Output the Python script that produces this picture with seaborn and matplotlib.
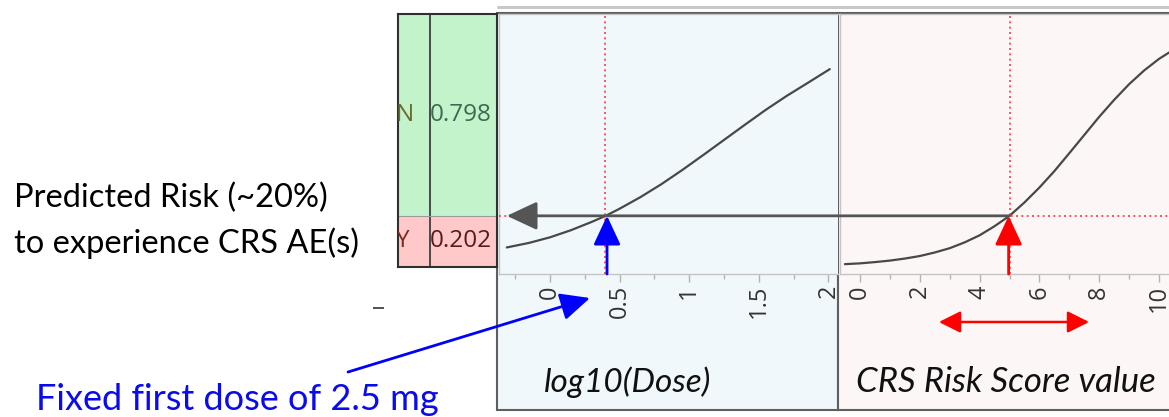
import matplotlib
matplotlib.use("Agg")
import matplotlib.pyplot as plt
from matplotlib.patches import Rectangle, FancyArrowPatch
from matplotlib.lines import Line2D
from matplotlib.ticker import MultipleLocator
import seaborn as sns
import pandas as pd

# ---- data -------------------------------------------------------------
# profile of predicted CRS probability vs log10(dose)
dose_log10 = [-0.31, -0.15, 0.0, 0.15, 0.3, 0.4, 0.5, 0.65, 0.8, 0.95,
              1.1, 1.25, 1.4, 1.55, 1.7, 1.85, 2.01]
dose_prob = [0.077, 0.095, 0.117, 0.145, 0.178, 0.202, 0.230, 0.276, 0.327, 0.383,
             0.442, 0.502, 0.562, 0.621, 0.676, 0.727, 0.782]

# profile of predicted CRS probability vs CRS risk score
score_vals = [-0.5, 0.0, 0.5, 1.0, 1.5, 2.0, 2.5, 3.0, 3.5, 4.0, 4.5, 5.0,
              5.5, 6.0, 6.5, 7.0, 7.5, 8.0, 8.5, 9.0, 9.5, 10.0, 10.7]
score_prob = [0.011, 0.014, 0.019, 0.025, 0.033, 0.043, 0.057, 0.074, 0.097, 0.125,
              0.161, 0.202, 0.255, 0.314, 0.379, 0.450, 0.522, 0.594, 0.661, 0.723,
              0.777, 0.823, 0.875]

# current settings of the profiler
dose_setting = 0.398          # log10(2.5 mg)
score_setting = 5.0
pred_prob = 0.202

outcome_labels = ["N", "Y"]
outcome_probs = [0.798, 0.202]

dose_ticks = [0, 0.5, 1, 1.5, 2]
dose_ticklabels = ["0", "0.5", "1", "1.5", "2"]
score_ticks = [0, 2, 4, 6, 8, 10]
score_ticklabels = ["0", "2", "4", "6", "8", "10"]

score_range = [2.64, 7.66]    # typical CRS risk score range

dose_df = pd.DataFrame({"x": dose_log10, "p": dose_prob})
score_df = pd.DataFrame({"x": score_vals, "p": score_prob})

# ---- figure -----------------------------------------------------------
sns.set_theme(style="white")
plt.rcParams["font.family"] = ["Open Sans", "DejaVu Sans"]

W, H = 1169, 417
fig = plt.figure(figsize=(W / 100, H / 100), dpi=100)


def box(x0, y0, x1, y1):
    """pixel box (top-left origin) -> figure fraction rect"""
    return [x0 / W, 1 - y1 / H, (x1 - x0) / W, (y1 - y0) / H]


def fx(px):
    return px / W


def fy(py):
    return 1 - py / H


BLUE_BG = "#f1f8fb"
PINK_BG = "#fdf6f6"
FRAME = "#5f5f5f"
SPINE = "#c4c4c4"
TICK = "#b4b4b4"
CROSS = "#ff3b3b"
ARROW_STYLE = "-|>,head_length=0.75,head_width=0.35"

# panel backgrounds with dark frame
fig.add_artist(Rectangle((fx(497), fy(410)), fx(838) - fx(497), fy(13) - fy(410),
                         transform=fig.transFigure, facecolor=BLUE_BG,
                         edgecolor=FRAME, lw=1.5, zorder=0))
fig.add_artist(Rectangle((fx(838), fy(410)), fx(1190) - fx(838), fy(13) - fy(410),
                         transform=fig.transFigure, facecolor=PINK_BG,
                         edgecolor=FRAME, lw=1.5, zorder=0))
# light double rule above the panels
fig.add_artist(Line2D([fx(498), 1.0], [fy(7), fy(7)], transform=fig.transFigure,
                      color="#c8c8c8", lw=2.2, zorder=1))

# ---- outcome table ----------------------------------------------------
axt = fig.add_axes(box(398, 14, 497, 267))
axt.set_xlim(0, 99)
axt.set_ylim(0, 1)
axt.axhspan(outcome_probs[1], 1, color="#c3f3ca", lw=0)
axt.axhspan(0, outcome_probs[1], color="#ffc9c9", lw=0)
axt.axvline(32, color="#303030", lw=1.2)
axt.axhline(outcome_probs[1], color="#9a9a9a", lw=0.8)
for s in axt.spines.values():
    s.set_color("#303030")
    s.set_linewidth(1.5)
axt.set_xticks([])
axt.set_yticks([])
y_mid = [(1 + outcome_probs[1]) / 2, outcome_probs[1] / 2]
txt_cols = [("#6a6a30", "#3c6a52"), ("#7a2a20", "#5a1a1a")]
for lab, val, ym, (c1, c2) in zip(outcome_labels, outcome_probs, y_mid, txt_cols):
    axt.text(-2.5, ym, lab, fontsize=17.5, color=c1, va="center", ha="left", clip_on=True)
    axt.text(32, ym, f"{val:.3f}", fontsize=17.5, color=c2, va="center", ha="left", clip_on=True)

# ---- profiler panels ----------------------------------------------------
ylo, yhi = -0.028, 1.0
ax1 = fig.add_axes(box(499, 14, 838, 274))
ax2 = fig.add_axes(box(840, 14, 1190, 274))

sns.lineplot(data=dose_df, x="x", y="p", ax=ax1, color="#484848", lw=1.6)
sns.lineplot(data=score_df, x="x", y="p", ax=ax2, color="#484848", lw=1.6)

ax1.set_xlim(-0.366, 2.069)
ax2.set_xlim(-0.664, 11.03)
ax1.set_xticks(dose_ticks)
ax1.xaxis.set_minor_locator(MultipleLocator(0.25))
ax2.set_xticks(score_ticks)
ax2.xaxis.set_minor_locator(MultipleLocator(1))

for ax, bg, labels in ((ax1, BLUE_BG, dose_ticklabels), (ax2, PINK_BG, score_ticklabels)):
    ax.set_facecolor(bg)
    for s in ax.spines.values():
        s.set_color(SPINE)
        s.set_linewidth(1.0)
    ax.spines["right"].set_visible(False)
    ax.set_ylim(ylo, yhi)
    ax.set_yticks([])
    ax.set_xlabel("")
    ax.set_ylabel("")
    ax.set_xticklabels(labels, va="top", rotation=90, fontsize=17,
                       color="#333333", family=["Open Sans", "DejaVu Sans"])
    ax.tick_params(axis="x", which="major", length=5.5, width=1, color=TICK,
                   pad=2.5, bottom=True)
    ax.tick_params(axis="x", which="minor", length=3.5, width=1, color=TICK, bottom=True)

# red dotted crosshairs
for ax, xs in ((ax1, dose_setting), (ax2, score_setting)):
    ax.axvline(xs, color=CROSS, lw=1.2, ls=(0, (1.2, 2.0)), zorder=3)
    ax.axhline(pred_prob, color=CROSS, lw=1.2, ls=(0, (1.2, 2.0)), zorder=3)

# gray arrow reading the predicted risk back to the outcome table
ax2.annotate("", xy=(-0.31, pred_prob), xycoords=ax1.transData,
             xytext=(score_setting, pred_prob), textcoords=ax2.transData,
             arrowprops=dict(arrowstyle=ARROW_STYLE, color="#555555", lw=2.0,
                             mutation_scale=25, shrinkA=0, shrinkB=0),
             zorder=6, annotation_clip=False)

# vertical arrows marking the current settings
ax1.annotate("", xy=(0.41, pred_prob), xytext=(0.41, ylo),
             arrowprops=dict(arrowstyle=ARROW_STYLE, color="#0000ff", lw=2.0,
                             mutation_scale=24, shrinkA=0, shrinkB=0), zorder=7)
ax2.annotate("", xy=(4.97, pred_prob), xytext=(4.97, ylo),
             arrowprops=dict(arrowstyle=ARROW_STYLE, color="#ff0000", lw=2.0,
                             mutation_scale=24, shrinkA=0, shrinkB=0), zorder=7)

# range of typical risk scores
ax2.annotate("", xy=(score_range[0], fy(322)), xycoords=("data", "figure fraction"),
             xytext=(score_range[1], fy(322)), textcoords=("data", "figure fraction"),
             arrowprops=dict(arrowstyle="<|-|>,head_length=0.6,head_width=0.3",
                             color="#ff0000", lw=1.8, mutation_scale=22,
                             shrinkA=0, shrinkB=0), annotation_clip=False)

# axis titles
title_font = ["Lato", "DejaVu Sans"]
fig.text(fx(628), fy(382), "log10(Dose)", fontsize=24, style="italic",
         family=title_font, ha="center", va="center", color="#111111")
fig.text(fx(1006), fy(382), "CRS Risk Score value", fontsize=25, style="italic",
         family=title_font, ha="center", va="center", color="#111111")

# callouts
fig.text(fx(14), fy(198), "Predicted Risk (~20%)", fontsize=23.5,
         family=title_font, ha="left", va="center", color="#000000")
fig.text(fx(14), fy(243), "to experience CRS AE(s)", fontsize=23.5,
         family=title_font, ha="left", va="center", color="#000000")
fig.text(fx(36), fy(400), "Fixed first dose of 2.5 mg", fontsize=26,
         family=title_font, ha="left", va="center", color="#0a0aee")

fig.add_artist(Rectangle((fx(373), fy(309)), fx(11), fy(0) - fy(2),
                         transform=fig.transFigure, facecolor="#555555",
                         edgecolor="none"))

fig.add_artist(FancyArrowPatch(
    (fx(348), fy(372)), (fx(590), fy(298)), transform=fig.transFigure,
    arrowstyle=ARROW_STYLE, mutation_scale=24,
    color="#0000ff", lw=2.0, shrinkA=0, shrinkB=0))

fig.savefig("out.png", dpi=100)
